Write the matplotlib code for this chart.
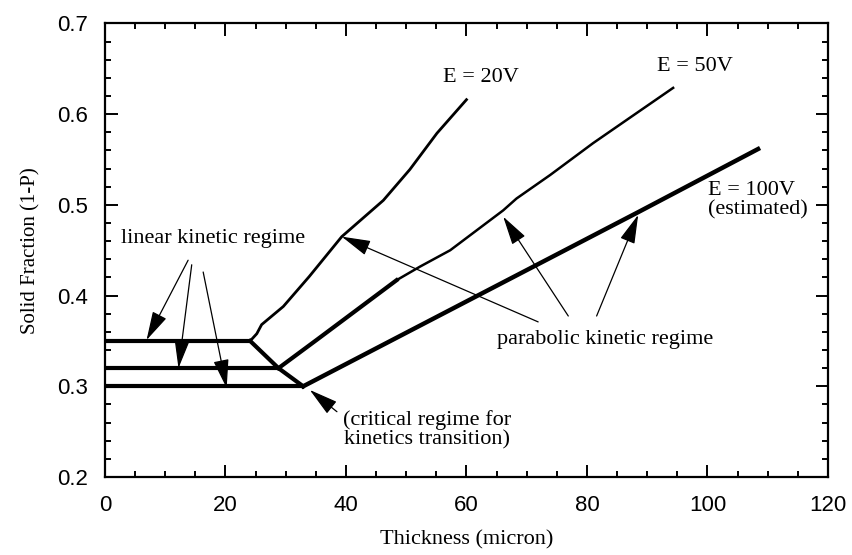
import matplotlib
matplotlib.use("Agg")
import matplotlib.pyplot as plt
from matplotlib.ticker import MultipleLocator

# linear kinetic regime (flat parts)
flat_x_end = [24.1, 28.8, 32.9]
flat_y = [0.35, 0.32, 0.30]

# transition line joining the three knees
trans_x = [24.1, 28.8, 32.9]
trans_y = [0.35, 0.32, 0.30]

# E = 20V
e20_x = [24.1, 25.2, 26.0, 29.6, 33.9, 39.3, 46.2, 50.6, 55.1, 60.0]
e20_y = [0.35, 0.358, 0.368, 0.388, 0.421, 0.465, 0.505, 0.539, 0.579, 0.616]

# E = 50V (thick lower part, thinner upper part)
e50_lo_x = [28.8, 35.1, 48.4]
e50_lo_y = [0.32, 0.351, 0.417]
e50_hi_x = [48.4, 52.3, 57.3, 66.1, 68.3, 73.9, 81.0, 87.1, 94.3]
e50_hi_y = [0.417, 0.432, 0.450, 0.494, 0.507, 0.533, 0.568, 0.596, 0.629]

# E = 100V (estimated)
e100_x = [32.9, 88.5, 108.4]
e100_y = [0.30, 0.492, 0.5616]

serif = "Liberation Serif"
sans = "Liberation Sans"

fig = plt.figure(figsize=(8.52, 5.55), dpi=100)
ax = fig.add_axes([0.1232, 0.1405, 0.8486, 0.8172])

for xe, yv in zip(flat_x_end, flat_y):
    ax.plot([0, xe], [yv, yv], color="k", lw=3.0, solid_capstyle="butt")
ax.plot(trans_x, trans_y, color="k", lw=3.0, solid_joinstyle="miter")
ax.plot(e20_x, e20_y, color="k", lw=2.0)
ax.plot(e50_lo_x, e50_lo_y, color="k", lw=3.0)
ax.plot(e50_hi_x, e50_hi_y, color="k", lw=1.8)
ax.plot(e100_x, e100_y, color="k", lw=3.2)

ax.set_xlim(0, 120)
ax.set_ylim(0.2, 0.7)
ax.xaxis.set_major_locator(MultipleLocator(20))
ax.xaxis.set_minor_locator(MultipleLocator(5))
ax.yaxis.set_major_locator(MultipleLocator(0.1))
ax.yaxis.set_minor_locator(MultipleLocator(0.02))
ax.tick_params(which="both", direction="in", top=True, right=True, width=1.4)
ax.tick_params(which="major", length=9)
ax.tick_params(which="minor", length=4.5)
ax.tick_params(axis="x", which="major", pad=13)
ax.tick_params(axis="y", which="major", pad=12)
for lab in ax.get_xticklabels() + ax.get_yticklabels():
    lab.set_fontfamily(sans)
    lab.set_fontsize(16)
for sp in ax.spines.values():
    sp.set_linewidth(1.6)

ax.set_xlabel("Thickness (micron)", fontfamily=serif, fontsize=16, labelpad=10)
ax.set_ylabel("Solid Fraction (1-P)", fontfamily=serif, fontsize=15, labelpad=12)

txt = dict(fontfamily=serif, fontsize=16, color="k")
ax.text(56.1, 0.640, "E = 20V", ha="left", va="center", **txt)
ax.text(91.6, 0.6526, "E = 50V", ha="left", va="center", **txt)
ax.text(100.1, 0.505, "E = 100V\n(estimated)", ha="left", va="center",
        linespacing=1.05, **txt)
ax.text(33.2, 0.4635, "linear kinetic regime", ha="right", va="center", **txt)
ax.text(65.0, 0.3516, "parabolic kinetic regime", ha="left", va="center", **txt)
ax.text(39.5, 0.274, "(critical regime for\nkinetics transition)", ha="left",
        va="top", multialignment="center", linespacing=1.05, **txt)

arrow = dict(arrowstyle="-|>,head_length=0.9,head_width=0.24", color="k",
             lw=0.9, shrinkA=0, shrinkB=0, mutation_scale=20)

# linear regime arrows
for (sx, sy), (tx, ty) in [((13.8, 0.439), (6.9, 0.351)),
                           ((14.4, 0.434), (12.2, 0.320)),
                           ((16.3, 0.426), (20.2, 0.298))]:
    ax.annotate("", xy=(tx, ty), xytext=(sx, sy), arrowprops=arrow)

# parabolic regime arrows
for (sx, sy), (tx, ty) in [((71.9, 0.371), (39.3, 0.465)),
                           ((76.9, 0.3775), (66.1, 0.487)),
                           ((81.6, 0.3775), (88.5, 0.489))]:
    ax.annotate("", xy=(tx, ty), xytext=(sx, sy), arrowprops=arrow)

# critical regime arrow
ax.annotate("", xy=(34.0, 0.296), xytext=(38.5, 0.272), arrowprops=arrow)

fig.savefig("out.png", dpi=100)
